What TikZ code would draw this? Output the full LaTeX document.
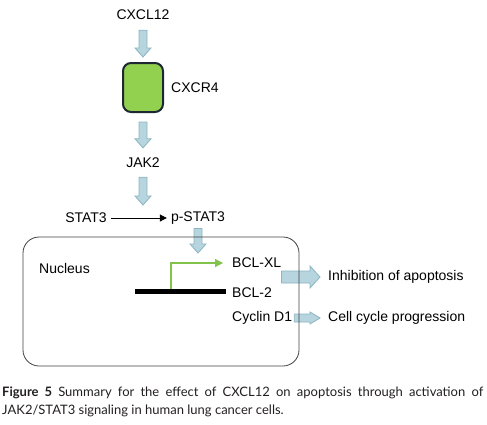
\documentclass[tikz,border=0pt]{standalone}
\usepackage{fontspec}
\setmainfont{Liberation Sans}
\newfontfamily\capfont{Lato}
\usetikzlibrary{calc,arrows.meta}

\definecolor{sigfill}{RGB}{183,213,223}
\definecolor{sigline}{RGB}{140,180,193}
\definecolor{recfill}{RGB}{146,208,80}
\definecolor{recline}{RGB}{30,40,50}
\definecolor{promgreen}{RGB}{130,195,75}
\definecolor{captext}{RGB}{35,31,32}

% wide signalling arrows, drawn as outlines
\newcommand{\sigdown}[2]{%
  \draw[sigarrow] let \p1=(#1), \p2=(#2) in
    (\x1-4pt,\y1) -- (\x1+4pt,\y1) -- (\x1+4pt,\y2+9pt) -- (\x1+8pt,\y2+9pt)
    -- (\x1,\y2) -- (\x1-8pt,\y2+9pt) -- (\x1-4pt,\y2+9pt) -- cycle;}
\newcommand{\sigright}[5]{%
  \draw[sigarrow] let \p1=(#1), \p2=(#2) in
    (\x1,\y1+#3) -- (\x2-#5,\y1+#3) -- (\x2-#5,\y1+#4) -- (\x2,\y1)
    -- (\x2-#5,\y1-#4) -- (\x2-#5,\y1-#3) -- (\x1,\y1-#3) -- cycle;}

\begin{document}
\begin{tikzpicture}[x=1pt,y=-1pt,
    lbl/.style={inner sep=0pt,font=\fontsize{14}{16}\selectfont},
    sigarrow/.style={fill=sigfill,draw=sigline,line width=0.8pt,line join=miter},
    receptor/.style={draw=recline,fill=recfill,line width=2pt,rounded corners=8pt,
        minimum width=40pt,minimum height=49pt,inner sep=0pt},
    nucleus/.style={draw=black!75,line width=0.8pt,rounded corners=16pt,
        minimum width=276pt,minimum height=129pt,inner sep=0pt},
    caption/.style={inner sep=0pt,text width=481pt,align=justify,text=captext,
        font=\capfont\fontsize{13}{18}\selectfont}]
\useasboundingbox (0,0) rectangle (487,424);

\node[lbl] (cxcl) at (143,15) {CXCL12};
\node[receptor] (cxcr) at (143,87.5) {};
\node[lbl,anchor=west] (cxcrlbl) at (171,88) {CXCR4};
\node[lbl] (jak) at (143,163) {JAK2};
\node[lbl] (stat) at (86,218) {STAT3};
\node[lbl] (pstat) at (198,218) {p-STAT3};
\coordinate (phos) at (143,218);

% nucleus and targets
\node[lbl,anchor=west] (nuclbl) at (39,268) {Nucleus};
\node[lbl,anchor=west] (bclxl) at (232,263) {BCL-XL};
\node[lbl,anchor=west] (bcl2) at (232,293) {BCL-2};
\node[lbl,anchor=west] (cyc) at (232,318) {Cyclin D1};
\node[lbl,anchor=west] (inhib) at (328,277) {Inhibition of apoptosis};
\node[lbl,anchor=west] (cellcyc) at (328,318) {Cell cycle progression};
\coordinate (gstart) at (135,291);
\coordinate (gend) at (226,291);
\coordinate (prom) at (171,288.5);

\sigdown{$(cxcl.south)+(0,10)$}{$(cxcr.north)+(0,-5)$}
\sigdown{$(cxcr.south)+(0,9)$}{$(jak.north)+(0,-10)$}
\sigdown{$(jak.south)+(0,9)$}{$(phos)+(0,-13)$}
\draw[line width=0.8pt,-{Triangle[length=7pt,width=7pt]},shorten <=4pt,shorten >=4pt]
    (stat) -- (pstat);
\sigdown{$(pstat.south)+(0,4)$}{$(pstat.south |- 0,237)+(0,16)$}
\sigright{bclxl.east |- inhib.west}{$(inhib.west)+(-8,0)$}{6pt}{11pt}{10pt}
\sigright{$(cyc.east)+(2,0)$}{$(cellcyc.west)+(-8,0)$}{4pt}{6pt}{10pt}

\node[nucleus] (nuc) at (161,301.5) {};
\draw[line width=5pt] (gstart) -- (gend);
\draw[draw=promgreen,line width=1.2pt,-{Triangle[length=8pt,width=8pt,fill=promgreen]},shorten >=9pt]
    (prom) |- (bclxl.west);

\node[caption,anchor=north west] (cap) at (2,387)
  {\textbf{Figure 5} Summary for the effect of CXCL12 on apoptosis through activation of\linebreak
   JAK2/STAT3 signaling in human lung cancer cells.};
\end{tikzpicture}
\end{document}
